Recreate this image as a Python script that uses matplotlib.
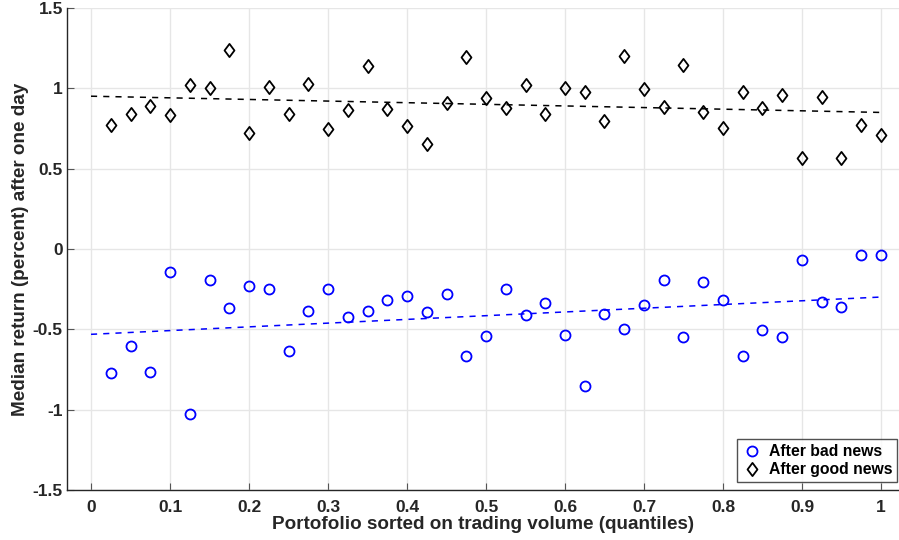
import numpy as np
import matplotlib
matplotlib.use("Agg")
import matplotlib.pyplot as plt
from matplotlib.path import Path

x = [0.025 * i for i in range(1, 41)]

bad_news = [-0.773, -0.606, -0.765, -0.144, -1.030, -0.191, -0.370, -0.229, -0.250, -0.637,
            -0.388, -0.250, -0.425, -0.388, -0.316, -0.293, -0.390, -0.281, -0.663, -0.543,
            -0.252, -0.411, -0.336, -0.535, -0.854, -0.403, -0.498, -0.347, -0.191, -0.548,
            -0.208, -0.320, -0.666, -0.502, -0.550, -0.067, -0.330, -0.361, -0.036, -0.036]

good_news = [0.773, 0.842, 0.887, 0.837, 1.022, 0.999, 1.239, 0.722, 1.009, 0.842,
             1.026, 0.747, 0.866, 1.138, 0.873, 0.765, 0.655, 0.906, 1.192, 0.937,
             0.877, 1.018, 0.842, 1.005, 0.980, 0.796, 1.204, 0.995, 0.885, 1.144,
             0.850, 0.753, 0.976, 0.879, 0.958, 0.566, 0.945, 0.566, 0.769, 0.711]

# trend lines (endpoints, x = 0 and x = 1)
trend_x = [0.0, 1.0]
bad_trend = [-0.531, -0.299]
good_trend = [0.951, 0.850]

xticks = [0, 0.1, 0.2, 0.3, 0.4, 0.5, 0.6, 0.7, 0.8, 0.9, 1]
xticklabels = ["0", "0.1", "0.2", "0.3", "0.4", "0.5", "0.6", "0.7", "0.8", "0.9", "1"]
yticks = [-1.5, -1, -0.5, 0, 0.5, 1, 1.5]
yticklabels = ["-1.5", "-1", "-0.5", "0", "0.5", "1", "1.5"]

plt.rcParams['font.family'] = ['Liberation Sans', 'DejaVu Sans']
plt.rcParams['font.weight'] = 'bold'

diamond = Path([(0, 1), (0.75, 0), (0, -1), (-0.75, 0), (0, 1)],
               [Path.MOVETO, Path.LINETO, Path.LINETO, Path.LINETO, Path.CLOSEPOLY])

fig = plt.figure(figsize=(8.99, 5.40), dpi=100)
ax = fig.add_axes([67/899, 50/540, (899-67)/899, (490-8)/540])

ax.plot(x, bad_news, linestyle='none', marker='o', markersize=7.2, markerfacecolor='none',
        markeredgecolor='#0000ff', markeredgewidth=1.3, label='After bad news', zorder=3)
ax.plot(x, good_news, linestyle='none', marker=diamond, markersize=9.5, markerfacecolor='none',
        markeredgecolor='black', markeredgewidth=1.3, label='After good news', zorder=3)
ax.plot(trend_x, bad_trend, linestyle=(0, (4, 4)), color='#0000ff', linewidth=1.1, zorder=2)
ax.plot(trend_x, good_trend, linestyle=(0, (4, 4)), color='black', linewidth=1.1, zorder=2)

ax.set_xlim(-0.0304, 1.0228)
ax.set_ylim(-1.5, 1.5)
ax.set_xticks(xticks)
ax.set_xticklabels(xticklabels)
ax.set_yticks(yticks)
ax.set_yticklabels(yticklabels)

ax.grid(True, color='#e6e6e6', linewidth=1.0, zorder=0)
ax.set_axisbelow(True)
for s in ['top', 'right']:
    ax.spines[s].set_visible(False)
for s in ['left', 'bottom']:
    ax.spines[s].set_color('#262626')
    ax.spines[s].set_linewidth(1.0)
ax.tick_params(direction='in', length=5, color='#555555', labelsize=12.5, labelcolor='#262626')
ax.tick_params(axis='x', pad=7)
ax.tick_params(axis='y', pad=3)
for lab in ax.get_xticklabels() + ax.get_yticklabels():
    lab.set_fontweight('bold')

ax.set_xlabel('Portofolio sorted on trading volume (quantiles)', fontsize=13.6, fontweight='bold',
              color='#262626', labelpad=1)
ax.set_ylabel('Median return (percent) after one day', fontsize=13.6, fontweight='bold',
              color='#262626', labelpad=3)

leg = ax.legend(loc='lower right', bbox_to_anchor=(0.9976, 0.0166), borderaxespad=0,
                frameon=True, fancybox=False, edgecolor='#262626',
                fontsize=11.3, borderpad=0.3, handletextpad=0.5, handlelength=1.2,
                labelspacing=0.2)
leg.get_frame().set_linewidth(1.0)
for t in leg.get_texts():
    t.set_fontweight('bold')

fig.savefig('out.png', dpi=100)
